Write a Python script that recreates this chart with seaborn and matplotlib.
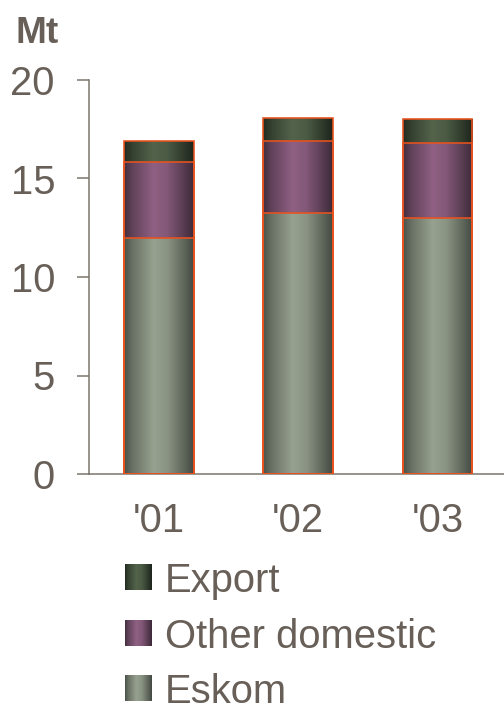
import numpy as np
import pandas as pd
import matplotlib
matplotlib.use("Agg")
import matplotlib.pyplot as plt
from matplotlib.colors import to_rgb
import seaborn as sns

years = ["'01", "'02", "'03"]
eskom = [12.0, 13.25, 13.0]
other_domestic = [3.85, 3.65, 3.8]
export = [1.05, 1.15, 1.2]

series_names = ["Eskom", "Other domestic", "Export"]
series_values = [eskom, other_domestic, export]
# (dark edge, light centre) of the horizontal gradient
series_colors = [("#444a42", "#97a18f"), ("#3d2a39", "#8f6083"), ("#1e251c", "#53644b")]

text_color = "#686058"
edge_color = "#e8521e"
axis_color = "#7a726a"

sns.set_style("white")
plt.rcParams["font.family"] = ["Liberation Sans", "DejaVu Sans"]

DPI = 72
fig = plt.figure(figsize=(504 / DPI, 710 / DPI), dpi=DPI)
ax = fig.add_axes([89 / 504, 236 / 710, 418 / 504, 394 / 710])


def gradient(dark, light, n=64):
    t = np.linspace(0, 1, n)
    f = np.interp(t, [0, 0.12, 0.42, 0.62, 0.85, 1], [0.1, 0.45, 1.0, 0.85, 0.35, 0.0])
    d, l = np.array(to_rgb(dark)), np.array(to_rgb(light))
    row = d[None, :] + f[:, None] * (l - d)[None, :]
    return row[None, :, :]


cum = np.cumsum(np.array(series_values), axis=0)
df = pd.DataFrame({"year": years})

# outlines: draw tallest cumulative first so the boundaries all show
for k in range(len(series_names) - 1, -1, -1):
    df["v"] = cum[k]
    sns.barplot(data=df, x="year", y="v", ax=ax, width=0.5, fill=False,
                edgecolor=edge_color, linewidth=1.6, zorder=3)

# gradient fills for each segment
bar_patches = ax.patches[:len(years)]
for k, (dark, light) in enumerate(series_colors):
    img = gradient(dark, light)
    for j, p in enumerate(bar_patches):
        x0 = p.get_x()
        x1 = x0 + p.get_width()
        lo = cum[k - 1][j] if k > 0 else 0
        hi = cum[k][j]
        ax.imshow(img, extent=[x0, x1, lo, hi], aspect="auto", zorder=1,
                  interpolation="bilinear")

ax.set_xlim(-0.5, 2.5)
ax.set_ylim(0, 20)
ax.set_yticks([0, 5, 10, 15, 20])
ax.set_xlabel("")
ax.set_ylabel("")
for s in ["top", "right"]:
    ax.spines[s].set_visible(False)
for s in ["left", "bottom"]:
    ax.spines[s].set_color(axis_color)
    ax.spines[s].set_linewidth(1.5)
ax.tick_params(axis="y", length=12, width=1.5, color=axis_color, direction="out",
               labelsize=40, labelcolor=text_color, pad=22, left=True)
ax.tick_params(axis="x", length=0, labelsize=40, labelcolor=text_color, pad=28)

fig.text(15 / 504, 1 - 43 / 710, "Mt", fontsize=37, fontweight="bold",
         color=text_color, va="baseline", ha="left")

# legend, top entry first
legend_y = [577, 633, 688]
for i, k in enumerate(range(len(series_names) - 1, -1, -1)):
    yc = legend_y[i]
    lax = fig.add_axes([125 / 504, 1 - (yc + 13) / 710, 27 / 504, 26 / 710])
    lax.imshow(gradient(*series_colors[k]), aspect="auto", interpolation="bilinear")
    lax.axis("off")
    fig.text(165 / 504, 1 - yc / 710, series_names[k], fontsize=40,
             color=text_color, va="center_baseline", ha="left")

fig.savefig("out.png", dpi=DPI)
